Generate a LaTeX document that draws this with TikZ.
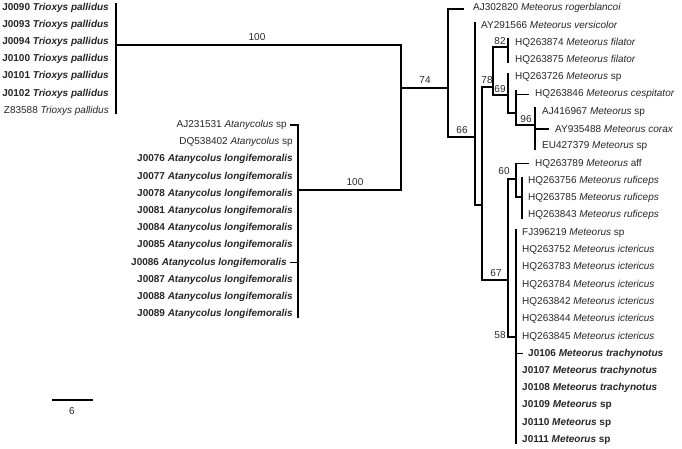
\documentclass[tikz,border=0pt]{standalone}
\usepackage{fontspec}
\setmainfont{Liberation Sans}
\begin{document}
\begin{tikzpicture}[x=1pt,y=-1pt,
  br/.style={line width=1.1pt, line cap=rect},
  lfw/.style={inner sep=0pt, anchor=west, font=\fontsize{10}{11}\selectfont, text=black!85},
  lfe/.style={inner sep=0pt, anchor=east, font=\fontsize{10}{11}\selectfont, text=black!85},
  bs/.style={inner sep=0pt, font=\fontsize{10}{11}\selectfont, text=black!85}]
\useasboundingbox (0,0) rectangle (682,448);
\def\rs{17.28}
% ---------- Trioxys clade (right aligned)
\foreach \i/\t in {0/J0090,1/J0093,2/J0094,3/J0100,4/J0101,5/J0102}{
  \node[lfe] (T\i) at (109,7.5+17.2*\i) {\textbf{\t\ \textit{Trioxys pallidus}}};
}
\node[lfe] (T6) at (109,7.5+17.2*6) {Z83588 \textit{Trioxys pallidus}};
% ---------- Atanycolus clade
\node[lfe] (A0) at (287,125) {AJ231531 \textit{Atanycolus} sp};
\node[lfe] (A1) at (293,125+17.2) {DQ538402 \textit{Atanycolus} sp};
\foreach \i/\t in {2/J0076,3/J0077,4/J0078,5/J0081,6/J0084,7/J0085,9/J0087,10/J0088,11/J0089}{
  \node[lfe] (A\i) at (293,125+17.2*\i) {\textbf{\t\ \textit{Atanycolus longifemoralis}}};
}
\node[lfe] (A8) at (287,125+17.2*8) {\textbf{J0086 \textit{Atanycolus longifemoralis}}};
% ---------- Meteorus clade
\node[lfw] (M0) at (473,8+\rs*0) {AJ302820 \textit{Meteorus rogerblancoi}};
\node[lfw] (M1) at (481,8+\rs*1) {AY291566 \textit{Meteorus versicolor}};
\node[lfw] (M2) at (515,8+\rs*2) {HQ263874 \textit{Meteorus filator}};
\node[lfw] (M3) at (515,8+\rs*3) {HQ263875 \textit{Meteorus filator}};
\node[lfw] (M4) at (515,8+\rs*4) {HQ263726 \textit{Meteorus} sp};
\node[lfw] (M5) at (535,8+\rs*5) {HQ263846 \textit{Meteorus cespitator}};
\node[lfw] (M6) at (542,8+\rs*6) {AJ416967 \textit{Meteorus} sp};
\node[lfw] (M7) at (555,8+\rs*7) {AY935488 \textit{Meteorus corax}};
\node[lfw] (M8) at (542,8+\rs*8) {EU427379 \textit{Meteorus} sp};
\node[lfw] (M9) at (535,8+\rs*9) {HQ263789 \textit{Meteorus} aff};
\node[lfw] (M10) at (528,8+\rs*10) {HQ263756 \textit{Meteorus ruficeps}};
\node[lfw] (M11) at (528,8+\rs*11) {HQ263785 \textit{Meteorus ruficeps}};
\node[lfw] (M12) at (528,8+\rs*12) {HQ263843 \textit{Meteorus ruficeps}};
\node[lfw] (M13) at (522,8+\rs*13) {FJ396219 \textit{Meteorus} sp};
\node[lfw] (M14) at (522,8+\rs*14) {HQ263752 \textit{Meteorus ictericus}};
\node[lfw] (M15) at (522,8+\rs*15) {HQ263783 \textit{Meteorus ictericus}};
\node[lfw] (M16) at (522,8+\rs*16) {HQ263784 \textit{Meteorus ictericus}};
\node[lfw] (M17) at (522,8+\rs*17) {HQ263842 \textit{Meteorus ictericus}};
\node[lfw] (M18) at (522,8+\rs*18) {HQ263844 \textit{Meteorus ictericus}};
\node[lfw] (M19) at (522,8+\rs*19) {HQ263845 \textit{Meteorus ictericus}};
\node[lfw] (M20) at (528,8+\rs*20) {\textbf{J0106 \textit{Meteorus trachynotus}}};
\node[lfw] (M21) at (522,8+\rs*21) {\textbf{J0107 \textit{Meteorus trachynotus}}};
\node[lfw] (M22) at (522,8+\rs*22) {\textbf{J0108 \textit{Meteorus trachynotus}}};
\node[lfw] (M23) at (522,8+\rs*23) {\textbf{J0109 \textit{Meteorus} sp}};
\node[lfw] (M24) at (522,8+\rs*24) {\textbf{J0110 \textit{Meteorus} sp}};
\node[lfw] (M25) at (522,8+\rs*25) {\textbf{J0111 \textit{Meteorus} sp}};
% ---------- internal node coordinates
\coordinate (nT) at (116,45);
\coordinate (nA) at (298,190);
\coordinate (nR) at (401,88);
\coordinate (nB) at (448,88);
\coordinate (nC) at (475,137);
\coordinate (nD) at (482,205);
\coordinate (nE) at (493,87);
\coordinate (nG) at (508,47);
\coordinate (nH) at (508,95);
\coordinate (nI) at (516,113);
\coordinate (nJ) at (535,125);
\coordinate (nF) at (508,280);
\coordinate (nK) at (516,179);
\coordinate (nM) at (522,197);
\coordinate (nL) at (516,337);
% ---------- branches
% Trioxys
\draw[br] (116,4) -- (116,113);
% Atanycolus
\draw[br] (298,125) -- (298,317);
\draw[br] (A0.east) ++(4,0) -- (298,125);
\draw[br] (A8.east) ++(4,0) -- (298,125+17.2*8);
% basal
\draw[br] (nT) -- (401,45) -- (401,190) -- (nA);
\draw[br] (nR) -- (nB);
\draw[br] (448,9) -- (448,137) -- (nC);
\draw[br] (448,9) -- (463,9);
\draw[br] (475,23) -- (475,205) -- (nD);
\draw[br] (482,87) -- (482,280) -- (nF);
\draw[br] (482,87) -- (nE);
\draw[br] (493,47) -- (493,95) -- (nH);
\draw[br] (493,47) -- (nG);
\draw[br] (508,39) -- (508,62);
\draw[br] (508,74) -- (508,113) -- (nI);
\draw[br] (516,91) -- (516,125) -- (nJ);
\draw[br] (516,94.4) -- (528,94.4);
\draw[br] (535,108) -- (535,149);
\draw[br] (535,129) -- (548,129);
\draw[br] (508,179) -- (508,337) -- (nL);
\draw[br] (508,179) -- (nK);
\draw[br] (516,163.5) -- (516,197) -- (nM);
\draw[br] (516,163.5) -- (528,163.5);
\draw[br] (522,178) -- (522,218);
\draw[br] (516,230) -- (516,443);
\draw[br] (516,353.6) -- (522,353.6);
% ---------- support values
\node[bs] (s100a) at (257,37) {100};
\node[bs] (s100b) at (355,182) {100};
\node[bs] (s74) at (425,80) {74};
\node[bs] (s66) at (462,130) {66};
\node[bs] (s78) at (487,80) {78};
\node[bs] (s82) at (500,41) {82};
\node[bs] (s69) at (500,89) {69};
\node[bs] (s96) at (526,119) {96};
\node[bs] (s60) at (504,171) {60};
\node[bs] (s67) at (496,273) {67};
\node[bs] (s58) at (500,335) {58};
% ---------- scale bar
\coordinate (sb1) at (52,400);
\coordinate (sb2) at (93,400);
\draw[line width=1.1pt] (sb1) -- (sb2);
\node[bs] (sbl) at (72,411) {6};
\end{tikzpicture}
\end{document}
